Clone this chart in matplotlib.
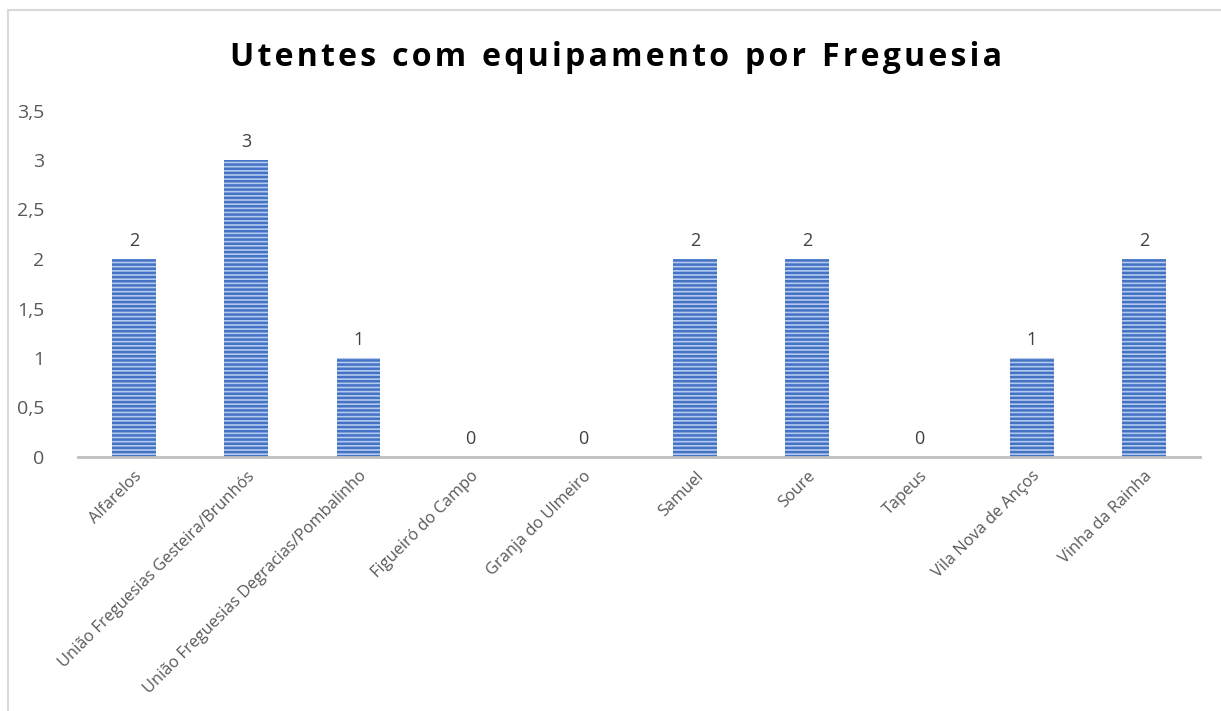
import matplotlib.pyplot as plt
from matplotlib.patches import Rectangle

freguesias = ["Alfarelos", "União Freguesias Gesteira/Brunhós",
              "União Freguesias Degracias/Pombalinho", "Figueiró do Campo",
              "Granja do Ulmeiro", "Samuel", "Soure", "Tapeus",
              "Vila Nova de Anços", "Vinha da Rainha"]
utentes = [2, 3, 1, 0, 0, 2, 2, 0, 1, 2]
y_ticks = [0, 0.5, 1, 1.5, 2, 2.5, 3, 3.5]
y_tick_labels = ["0", "0,5", "1", "1,5", "2", "2,5", "3", "3,5"]

plt.rcParams['font.family'] = ['Open Sans', 'DejaVu Sans']
plt.rcParams['hatch.linewidth'] = 1.8

fig = plt.figure(figsize=(12.21, 7.11), dpi=100)
fig.patches.append(Rectangle((8 / 1221, -0.1), 1.2, 1 - 10 / 711 + 0.1,
                             transform=fig.transFigure, fill=False,
                             edgecolor='#d9d9d9', linewidth=1.5))

ax = fig.add_axes([78 / 1221, 1 - 457 / 711, (1200 - 78) / 1221, (457 - 110.5) / 711])
x = range(len(freguesias))
ax.bar(x, utentes, width=0.39, color='#b4c9ee', edgecolor='#4472c4',
       hatch='----', linewidth=0)

for xi, v in zip(x, utentes):
    ax.text(xi, v + 0.09, str(v), ha='center', va='bottom', fontsize=13, color='#404040')

ax.set_xlim(-0.5, len(freguesias) - 0.5)
ax.set_ylim(0, 3.5)
ax.set_yticks(y_ticks)
ax.set_yticklabels(y_tick_labels, fontsize=14, color='#595959')
ax.set_xticks(list(x))
ax.set_xticklabels(freguesias, rotation=45, ha='right', rotation_mode='anchor',
                   fontsize=11.8, color='#595959')
ax.tick_params(axis='both', length=0)
ax.tick_params(axis='y', pad=24)
ax.tick_params(axis='x', pad=8)
for s in ['top', 'right', 'left']:
    ax.spines[s].set_visible(False)
ax.spines['bottom'].set_color('#bfbfbf')
ax.spines['bottom'].set_linewidth(2)

titulo = "Utentes com equipamento por Freguesia"
fig.text(616 / 1221, 1 - 58 / 711, "\u200a".join(titulo).replace("\u200a \u200a", "\u2002"),
         ha='center', va='center', fontsize=23, fontweight='bold', color='#000000')

fig.savefig("out.png", dpi=100)
